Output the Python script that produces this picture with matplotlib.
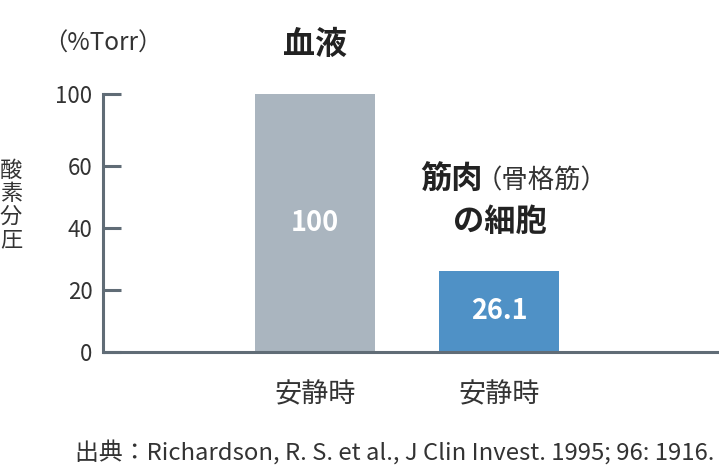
import numpy as np
import matplotlib
matplotlib.use("Agg")
from matplotlib import pyplot as plt

plt.rcParams['font.family'] = ['Noto Sans CJK JP', 'DejaVu Sans']

# data
categories = ['血液', '筋肉の細胞']
x_labels = ['安静時', '安静時']
values = [100, 26.1]
value_labels = ['100', '26.1']
yticks = [0, 20, 40, 60, 100]
colors = ['#aab5bf', '#4f91c6']

# broken y scale: above 60 is squeezed
k = 0.58
def fwd(y):
    y = np.asarray(y, dtype=float)
    return np.where(y <= 60, y, 60 + (y - 60) * k)
def inv(t):
    t = np.asarray(t, dtype=float)
    return np.where(t <= 60, t, 60 + (t - 60) / k)

W, H = 719, 465
fig = plt.figure(figsize=(W / 100, H / 100), dpi=100)

def px(x, y):
    return x / W, 1 - y / H

ax = fig.add_axes([103.5 / W, (H - 351.5) / H, (W - 103.5) / W, (351.5 - 94) / H])
ax.set_yscale('function', functions=(fwd, inv))
ax.set_ylim(0, 100)
ax.set_xlim(-1.15, 2.196)

xpos = np.arange(len(values))
bars = ax.bar(xpos, values, width=0.652, color=colors)

spine_c = '#606c76'
for s in ['top', 'right']:
    ax.spines[s].set_visible(False)
for s in ['left', 'bottom']:
    ax.spines[s].set_color(spine_c)
    ax.spines[s].set_linewidth(2.2)

ax.set_yticks(yticks)
ax.set_yticklabels([str(v) for v in yticks])
ax.tick_params(axis='y', direction='in', length=13, width=2.2, color=spine_c,
               labelsize=16, labelcolor='#333333', pad=8)
ax.set_xticks([])
ax.minorticks_off()

# value labels in the middle of each bar
for xi, v, lab in zip(xpos, values, value_labels):
    mid = float(inv(fwd(v) / 2))
    ax.text(xi, mid, lab, ha='center', va='center', color='white',
            fontsize=19.5, fontweight='semibold')

# x labels under bars
for xi, lab in zip(xpos, x_labels):
    ax.annotate(lab, xy=(xi, 0), xytext=(0, -31.5), textcoords='offset points',
                ha='center', va='center', fontsize=19.5, color='#333333')

# category headings
ax.annotate(categories[0], xy=(0, 100), xytext=(0, 35), textcoords='offset points',
            ha='center', va='center', fontsize=23, fontweight='bold', color='#222222')
fig.text(*px(420, 180), '筋肉', ha='left', va='center', fontsize=22.5,
         fontweight='bold', color='#222222')
fig.text(*px(476, 181), '（骨格筋）', ha='left', va='center', fontsize=19,
         color='#333333')
fig.text(*px(500, 222), 'の細胞', ha='center', va='center', fontsize=22.5,
         fontweight='bold', color='#222222')

# unit and y label
fig.text(*px(103, 44), '（%Torr）', ha='center', va='center', fontsize=17.5, color='#333333')
fig.text(*px(11, 205), '酸\n素\n分\n圧', ha='center', va='center', fontsize=16,
         color='#333333', linespacing=1.02)

# source
fig.text(*px(75, 452), '出典：Richardson, R. S. et al., J Clin Invest. 1995; 96: 1916.',
         ha='left', va='center', fontsize=17.2, color='#333333')

fig.savefig('out.png', dpi=100)
